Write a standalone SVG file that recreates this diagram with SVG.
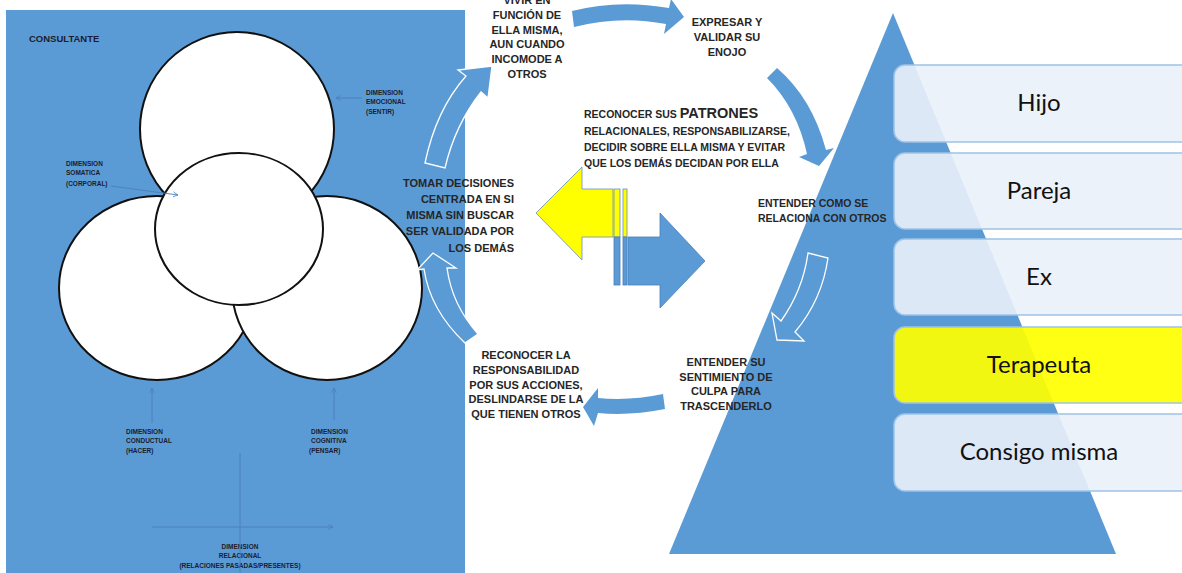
<svg xmlns="http://www.w3.org/2000/svg" width="1182" height="573" viewBox="0 0 1182 573">
<defs>
<marker id="open" viewBox="0 0 10 10" refX="9" refY="5" markerWidth="6" markerHeight="6" orient="auto-start-reverse" markerUnits="userSpaceOnUse">
<path d="M1,1 L9,5 L1,9" fill="none" stroke="#4A7EBB" stroke-width="1.2"/>
</marker>
<style>
.bg{fill:#5B9BD5}
.circ{fill:#FFFFFF;stroke:#111111;stroke-width:2}
.tiny{font-family:"Liberation Sans",Arial,sans-serif;font-weight:bold;font-size:6.5px;fill:#1c1c2c}
.lbl{font-family:"Liberation Sans",Arial,sans-serif;font-weight:bold;font-size:11px;fill:#262626}
.lblc{text-anchor:middle}
.lblr{text-anchor:end}
.pat{font-family:"Liberation Sans",Arial,sans-serif;font-weight:bold;font-size:10.5px;fill:#262626}
.thin{fill:none;stroke:#4A7EBB;stroke-width:0.9}
.solid{fill:#5B9BD5}
.outl{fill:#5B9BD5;stroke:#FFFFFF;stroke-width:1.3}
.box{fill:#EAF1FA;fill-opacity:0.9;stroke:#9DC3E6;stroke-width:1.5}
.boxy{fill:#FFFF00;fill-opacity:0.92;stroke:#9DC3E6;stroke-width:1.5}
.btxt{font-family:Lato,"Open Sans",sans-serif;font-size:24px;fill:#111111;text-anchor:middle}
</style>
</defs>
<g id="consultante">
<rect class="bg" x="6" y="10" width="459" height="563"/>
<text x="29" y="42" font-family="Liberation Sans, Arial, sans-serif" font-weight="bold" font-size="9.5" fill="#1c1c2c">CONSULTANTE</text>
</g>
<g id="circles">
<ellipse id="c-conductual" class="circ" cx="157" cy="288" rx="98" ry="92"/>
<ellipse id="c-cognitiva" class="circ" cx="327" cy="288" rx="95" ry="92"/>
<ellipse id="c-emocional" class="circ" cx="237" cy="129" rx="97" ry="97"/>
<ellipse id="c-somatica" class="circ" cx="239" cy="229" rx="84" ry="76"/>
</g>
<g id="dim-labels">
<g id="lbl-emocional">
<text class="tiny" x="366" y="95">DIMENSION</text>
<text class="tiny" x="366" y="104">EMOCIONAL</text>
<text class="tiny" x="366" y="114">(SENTIR)</text>
</g>
<g id="lbl-somatica">
<text class="tiny" x="66" y="166">DIMENSION</text>
<text class="tiny" x="66" y="175">SOMATICA</text>
<text class="tiny" x="66" y="186">(CORPORAL)</text>
</g>
<g id="lbl-conductual">
<text class="tiny" x="126" y="434">DIMENSION</text>
<text class="tiny" x="126" y="443">CONDUCTUAL</text>
<text class="tiny" x="126" y="453">(HACER)</text>
</g>
<g id="lbl-cognitiva">
<text class="tiny" x="311" y="434">DIMENSION</text>
<text class="tiny" x="311" y="443">COGNITIVA</text>
<text class="tiny" x="309" y="453">(PENSAR)</text>
</g>
<g id="lbl-relacional">
<text class="tiny" x="240" y="549" text-anchor="middle">DIMENSION</text>
<text class="tiny" x="240" y="558" text-anchor="middle">RELACIONAL</text>
<text class="tiny" x="240" y="568" text-anchor="middle">(RELACIONES PASADAS/PRESENTES)</text>
</g>
</g>
<g id="pyramid">
<polygon points="893,13 1116,554 669,554" fill="#5B9BD5"/>
</g>
<g id="connectors">
<line class="thin" x1="362" y1="98" x2="336" y2="98" marker-end="url(#open)"/>
<line class="thin" x1="111" y1="186" x2="178" y2="195" marker-end="url(#open)"/>
<line class="thin" x1="152" y1="423" x2="152" y2="388" marker-end="url(#open)"/>
<line class="thin" x1="334" y1="420" x2="334" y2="388" marker-end="url(#open)"/>
<line class="thin" x1="240" y1="453" x2="240" y2="573"/>
<line class="thin" x1="152" y1="527" x2="333" y2="527" marker-end="url(#open)"/>
<path id="arr-top" class="solid" d="M572,11 Q618,-1 669,8 L671,-1 L684,17 L664,34 L666,24 Q620,15 574,27 Z"/>
<path id="arr-right" class="solid" d="M767,78 L777,68 Q812,98 826,150 L834,148 L819,166 L799,157 L807,154 Q797,108 767,78 Z"/>
<path id="arr-tri" class="outl" d="M808,253 L828,258 Q822,300 795,332 L804,341 L777,340 L772,313 L781,321 Q803,290 808,253 Z"/>
<path id="arr-bottom" class="solid" d="M663,394 L665,409 Q630,416 598,413 L594,426 L583,407 L598,388 L598,398 Q630,401 663,394 Z"/>
<path id="arr-lowleft" class="outl" d="M465,343 Q430,310 424,269 L417,270 L433,253 L456,268 L447,268 Q452,305 478,334 Z"/>
<path id="arr-upleft" class="outl" d="M425,163 Q436,110 466,76 L458,70 L492,66 L488,98 L481,92 Q455,125 445,168 Z"/>
<g id="double-arrow">
<polygon points="536,213 582,167 582,189 613,189 613,237 582,237 582,260" fill="#FFFF00" stroke="#6A8FB8" stroke-width="0.8"/>
<rect x="614" y="189" width="6" height="48" fill="#FFFF00" stroke="#6A8FB8" stroke-width="0.8"/>
<rect x="623" y="189" width="4" height="48" fill="#FFFF00" stroke="#6A8FB8" stroke-width="0.8"/>
<polygon points="628,237 660,237 660,213 705,261 660,308 660,285 628,285" fill="#5B9BD5" stroke="#4A7EBB" stroke-width="0.8"/>
<rect x="614" y="237" width="6" height="48" fill="#5B9BD5" stroke="#4A7EBB" stroke-width="0.8"/>
<rect x="623" y="237" width="4" height="48" fill="#5B9BD5" stroke="#4A7EBB" stroke-width="0.8"/>
</g>
</g>
<g id="step-vivir">
<text class="lbl lblc" x="527" y="4">VIVIR EN</text>
<text class="lbl lblc" x="527" y="19">FUNCIÓN DE</text>
<text class="lbl lblc" x="527" y="34">ELLA MISMA,</text>
<text class="lbl lblc" x="527" y="48">AUN CUANDO</text>
<text class="lbl lblc" x="527" y="63">INCOMODE A</text>
<text class="lbl lblc" x="527" y="78">OTROS</text>
</g>
<g id="step-expresar">
<text class="lbl lblc" x="727" y="26">EXPRESAR Y</text>
<text class="lbl lblc" x="727" y="41">VALIDAR SU</text>
<text class="lbl lblc" x="727" y="56">ENOJO</text>
</g>
<g id="step-patrones">
<text class="pat" x="584" y="118">RECONOCER SUS <tspan font-size="14.5">PATRONES</tspan></text>
<text class="pat" x="584" y="135">RELACIONALES, RESPONSABILIZARSE,</text>
<text class="pat" x="584" y="151">DECIDIR SOBRE ELLA MISMA Y EVITAR</text>
<text class="pat" x="584" y="167">QUE LOS DEMÁS DECIDAN POR ELLA</text>
</g>
<g id="step-tomar">
<text class="lbl lblr" x="514" y="187">TOMAR DECISIONES</text>
<text class="lbl lblr" x="514" y="203">CENTRADA EN SI</text>
<text class="lbl lblr" x="514" y="219">MISMA SIN BUSCAR</text>
<text class="lbl lblr" x="514" y="235">SER VALIDADA POR</text>
<text class="lbl lblr" x="514" y="252">LOS DEMÁS</text>
</g>
<g id="step-entender-como">
<text class="pat" x="758" y="207">ENTENDER COMO SE</text>
<text class="pat" x="758" y="222">RELACIONA CON OTROS</text>
</g>
<g id="step-entender-su">
<text class="lbl lblc" x="726" y="366">ENTENDER SU</text>
<text class="lbl lblc" x="726" y="381">SENTIMIENTO DE</text>
<text class="lbl lblc" x="726" y="395">CULPA PARA</text>
<text class="lbl lblc" x="726" y="410">TRASCENDERLO</text>
</g>
<g id="step-reconocer">
<text class="lbl lblc" x="526" y="359">RECONOCER LA</text>
<text class="lbl lblc" x="526" y="374">RESPONSABILIDAD</text>
<text class="lbl lblc" x="526" y="389">POR SUS ACCIONES,</text>
<text class="lbl lblc" x="526" y="403">DESLINDARSE DE LA</text>
<text class="lbl lblc" x="526" y="418">QUE TIENEN OTROS</text>
</g>
<g id="box-hijo">
<rect class="box" x="894" y="65" width="300" height="77" rx="11"/>
<text class="btxt" x="1039" y="111">Hijo</text>
</g>
<g id="box-pareja">
<rect class="box" x="894" y="153" width="300" height="76" rx="11"/>
<text class="btxt" x="1039" y="199">Pareja</text>
</g>
<g id="box-ex">
<rect class="box" x="894" y="239" width="300" height="76" rx="11"/>
<text class="btxt" x="1039" y="285">Ex</text>
</g>
<g id="box-terapeuta">
<rect class="boxy" x="894" y="327" width="300" height="76" rx="11"/>
<text class="btxt" x="1039" y="373">Terapeuta</text>
</g>
<g id="box-consigo">
<rect class="box" x="894" y="414" width="300" height="77" rx="11"/>
<text class="btxt" x="1039" y="460">Consigo misma</text>
</g>
</svg>
